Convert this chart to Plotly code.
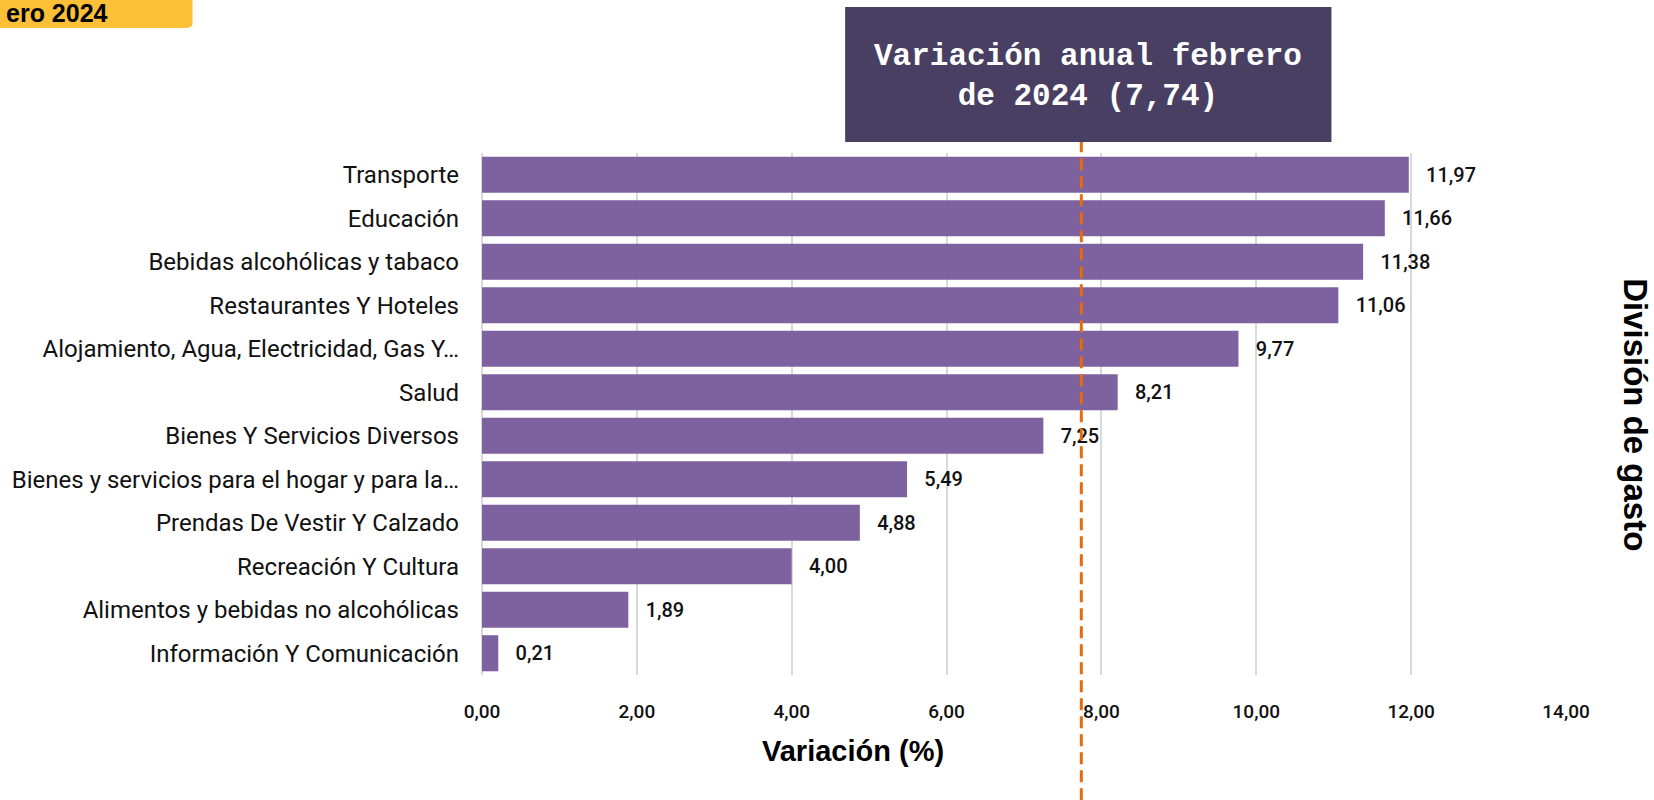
import plotly.graph_objects as go

# Divisiones de gasto (top to bottom) and annual variation, February 2024
categorias = [
    "Transporte",
    "Educación",
    "Bebidas alcohólicas y tabaco",
    "Restaurantes Y Hoteles",
    "Alojamiento, Agua, Electricidad, Gas Y…",
    "Salud",
    "Bienes Y Servicios Diversos",
    "Bienes y servicios para el hogar y para la…",
    "Prendas De Vestir Y Calzado",
    "Recreación Y Cultura",
    "Alimentos y bebidas no alcohólicas",
    "Información Y Comunicación",
]
variacion = [11.97, 11.66, 11.38, 11.06, 9.77, 8.21, 7.25, 5.49, 4.88, 4.00, 1.89, 0.21]
variacion_total = 7.74
x_ticks = [0, 2, 4, 6, 8, 10, 12, 14]

BAR = "#7E62A0"
ORANGE = "#E46C0A"
BOX = "#483F62"
YELLOW = "#FBC037"
LABEL_FONT = "Roboto, DejaVu Sans, sans-serif"
TITLE_FONT = "Liberation Sans, Arial, sans-serif"

fig = go.Figure(
    go.Bar(
        y=categorias,
        x=variacion,
        orientation="h",
        marker=dict(color=BAR, line=dict(width=0)),
        # en space + thin space: labels sit a little away from the bar end
        texttemplate="\u2002\u2009%{x:.2f}",
        textposition="outside",
        textfont=dict(family=LABEL_FONT, size=20, color="#111111", weight=500),
        cliponaxis=False,
        hoverinfo="skip",
    )
)

# reference line for the total annual variation
fig.add_shape(
    type="line", xref="x", yref="paper",
    x0=variacion_total, x1=variacion_total, y0=-0.24, y1=1.021,
    line=dict(color=ORANGE, width=3, dash="12px,6px"),
)

# dark callout box
fig.add_shape(
    type="rect", xref="paper", yref="paper",
    x0=0.335, x1=0.7836, y0=1.0211, y1=1.2797,
    fillcolor=BOX, line=dict(width=0), layer="above",
)
fig.add_annotation(
    xref="paper", yref="paper", x=0.5593, y=1.1475, yanchor="middle",
    text="Variación anual febrero<br>de 2024 (%s)" % f"{variacion_total:.2f}".replace(".", ","),
    showarrow=False, align="center",
    font=dict(family="Liberation Mono, Courier New, monospace", size=31, color="white", weight="bold"),
)

# yellow tab, top-left (cut off by the page edge)
fig.add_shape(
    type="path", xref="paper", yref="paper",
    path="M -0.45,1.30 L -0.267,1.30 L -0.267,1.2475 Q -0.267,1.2395 -0.2745,1.2395 L -0.45,1.2395 Z",
    fillcolor=YELLOW, line=dict(width=0), layer="above",
)
fig.add_annotation(
    xref="paper", yref="paper", x=-0.4405, y=1.268, xanchor="left", yanchor="middle",
    text="ero 2024", showarrow=False,
    font=dict(family="Liberation Sans Narrow, Liberation Sans, sans-serif", size=25, color="black", weight="bold"),
)

# axis titles
fig.add_annotation(
    xref="paper", yref="paper", x=0.3425, y=-0.145, yanchor="middle",
    text="Variación (%)", showarrow=False,
    font=dict(family=TITLE_FONT, size=29, color="black", weight="bold"),
)
fig.add_annotation(
    xref="paper", yref="paper", x=1.0645, y=0.498, xanchor="center", yanchor="middle",
    text="División de gasto", textangle=90, showarrow=False,
    font=dict(family=TITLE_FONT, size=33, color="black", weight="bold"),
)

fig.update_layout(
    width=1654, height=800,
    margin=dict(l=480, r=88, t=153, b=125),
    paper_bgcolor="white", plot_bgcolor="white",
    separators=",.",
    showlegend=False,
    bargap=0.17,
)
fig.update_xaxes(
    range=[0, 14], tickvals=x_ticks, tickformat=".2f",
    showgrid=True, gridcolor="#D9D9D9", gridwidth=1.5,
    zeroline=True, zerolinecolor="#D9D9D9", zerolinewidth=1.5,
    showline=False, ticks="",
    tickfont=dict(family=LABEL_FONT, size=19, color="#111111", weight=500),
    ticklabelstandoff=23,
)
fig.update_yaxes(
    autorange="reversed", showgrid=False, showline=False, ticks="",
    tickfont=dict(family=LABEL_FONT, size=24, color="#111111"),
    ticklabelstandoff=22,
)

fig.write_html(
    "out.html",
    config={"displayModeBar": False},
    post_script="document.body.style.margin='0';",
)
